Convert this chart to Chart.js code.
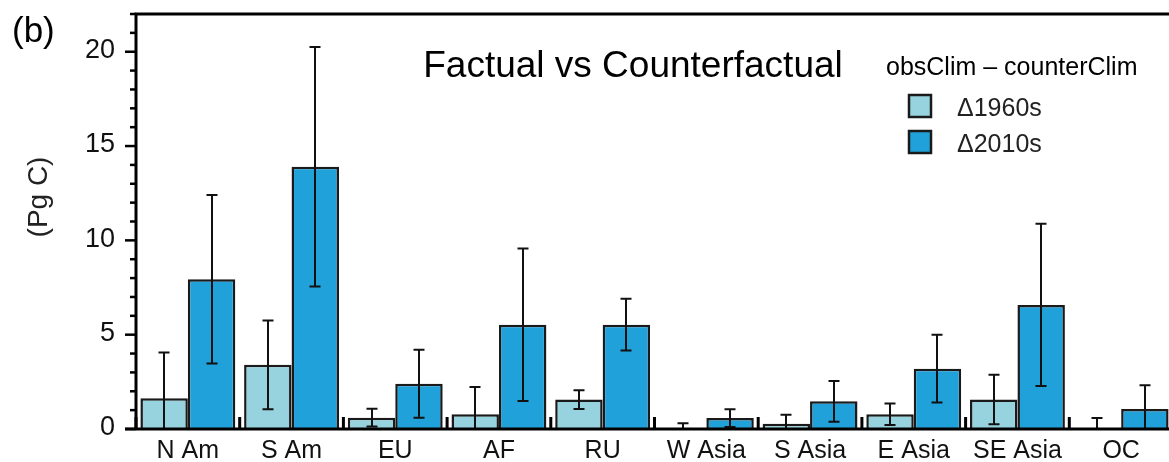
<!DOCTYPE html>
<html>
<head>
<meta charset="utf-8">
<script src="https://cdn.jsdelivr.net/npm/chart.js@4/dist/chart.umd.min.js"></script>
<style>
  html, body { margin: 0; padding: 0; background: #fff; overflow: hidden; }
  #wrap { width: 1175px; height: 462px; }
</style>
</head>
<body>
<div id="wrap"><canvas id="c" width="1175" height="462"></canvas></div>
<script>
const categories = ['N Am', 'S Am', 'EU', 'AF', 'RU', 'W Asia', 'S Asia', 'E Asia', 'SE Asia', 'OC'];
const d1960 = [1.63, 3.40, 0.60, 0.78, 1.56, 0.05, 0.28, 0.78, 1.56, 0.05];
const e1960 = [2.42, 2.35, 0.47, 1.45, 0.50, 0.25, 0.48, 0.57, 1.31, 0.53];
const d2010 = [7.94, 13.9, 2.40, 5.53, 5.53, 0.58, 1.47, 3.20, 6.58, 1.06];
const e2010 = [4.47, 6.35, 1.80, 4.04, 1.37, 0.47, 1.08, 1.80, 4.30, 1.26];
const seriesNames = ['\u03941960s', '\u03942010s'];
const yTickLabels = [0, 5, 10, 15, 20];
const yMax = 22;
const yMajorStep = 5;
const yMinorStep = 1;

const FONT = '"Liberation Sans", Arial, sans-serif';
const LIGHT = '#97d3df';
const BLUE = '#21a1d9';
const EDGE = '#1a1a1a';

const errors = [e1960, e2010];

const decorPlugin = {
  id: 'decor',
  afterDatasetsDraw(chart) {
    const ctx = chart.ctx;
    const ca = chart.chartArea;
    const ys = chart.scales.y;
    const xs = chart.scales.x;
    // error bars
    ctx.save();
    ctx.beginPath();
    ctx.rect(ca.left, ca.top, ca.right - ca.left, ca.bottom - ca.top);
    ctx.clip();
    ctx.strokeStyle = '#111';
    ctx.lineWidth = 2;
    chart.data.datasets.forEach((ds, di) => {
      const meta = chart.getDatasetMeta(di);
      meta.data.forEach((el, i) => {
        const v = ds.data[i];
        const e = errors[di][i];
        const yt = ys.getPixelForValue(v + e);
        const yb = ys.getPixelForValue(v - e);
        const x = Math.round(el.x);
        ctx.beginPath();
        ctx.moveTo(x, yt);
        ctx.lineTo(x, yb);
        ctx.moveTo(x - 5.5, yt);
        ctx.lineTo(x + 5.5, yt);
        if (v - e >= 0.05) {
          ctx.moveTo(x - 5.5, yb);
          ctx.lineTo(x + 5.5, yb);
        }
        ctx.stroke();
      });
    });
    ctx.restore();

    ctx.save();
    // frame
    ctx.strokeStyle = '#000';
    ctx.lineWidth = 3;
    ctx.beginPath();
    ctx.moveTo(ca.left, ca.bottom);
    ctx.lineTo(ca.left, ca.top);
    ctx.lineTo(ca.right, ca.top);
    ctx.lineTo(ca.right, ca.bottom);
    ctx.lineTo(ca.left - 11, ca.bottom);
    ctx.stroke();
    // y ticks
    ctx.lineWidth = 2.5;
    for (let v = 0; v <= yMax; v += yMinorStep) {
      const y = ys.getPixelForValue(v);
      const len = (v % yMajorStep === 0) ? 11 : 6;
      ctx.beginPath();
      ctx.moveTo(ca.left - len, y);
      ctx.lineTo(ca.left, y);
      ctx.stroke();
    }
    // y tick labels
    ctx.fillStyle = '#111';
    ctx.font = '27px ' + FONT;
    ctx.textAlign = 'right';
    ctx.textBaseline = 'middle';
    yTickLabels.forEach(v => {
      ctx.fillText(String(v), 115, ys.getPixelForValue(v) - 1);
    });
    // category separators
    ctx.lineWidth = 3;
    const n = categories.length;
    const w = (ca.right - ca.left) / n;
    for (let i = 0; i <= n; i++) {
      const x = xs.getPixelForValue(i) - w / 2;
      ctx.beginPath();
      ctx.moveTo(x, ca.bottom);
      ctx.lineTo(x, ca.bottom - 12);
      ctx.stroke();
    }
    // texts
    ctx.fillStyle = '#000';
    ctx.textBaseline = 'alphabetic';
    ctx.textAlign = 'left';
    ctx.font = '35px ' + FONT;
    ctx.fillText('(b)', 12, 42);
    ctx.textAlign = 'center';
    ctx.font = '37px ' + FONT;
    ctx.fillText('Factual vs Counterfactual', 633, 77);
    ctx.textAlign = 'left';
    ctx.font = '25px ' + FONT;
    ctx.fillText('obsClim \u2013 counterClim', 886, 75);
    // legend
    const cols = [LIGHT, BLUE];
    const boxY = [95, 131];
    ctx.font = '25px ' + FONT;
    for (let k = 0; k < 2; k++) {
      ctx.fillStyle = cols[k];
      ctx.fillRect(909, boxY[k], 22, 22);
      ctx.strokeStyle = EDGE;
      ctx.lineWidth = 2.5;
      ctx.strokeRect(909, boxY[k], 22, 22);
      ctx.fillStyle = '#222';
      ctx.fillText(seriesNames[k], 957, boxY[k] + 21);
    }
    // y title
    ctx.save();
    ctx.translate(47, 197);
    ctx.rotate(-Math.PI / 2);
    ctx.textAlign = 'center';
    ctx.font = '28px ' + FONT;
    ctx.fillStyle = '#222';
    ctx.fillText('(Pg C)', 0, 0);
    ctx.restore();
    ctx.restore();
  }
};

new Chart(document.getElementById('c'), {
  type: 'bar',
  data: {
    labels: categories,
    datasets: [
      { label: seriesNames[0], data: d1960, backgroundColor: LIGHT, borderColor: EDGE, borderWidth: 2.5 },
      { label: seriesNames[1], data: d2010, backgroundColor: BLUE, borderColor: EDGE, borderWidth: 2.5 }
    ]
  },
  options: {
    responsive: false,
    devicePixelRatio: 1,
    animation: false,
    layout: { padding: { top: 14, right: 2, left: 0, bottom: 0 } },
    datasets: { bar: { categoryPercentage: 0.915, barPercentage: 1.0 } },
    plugins: { legend: { display: false }, tooltip: { enabled: false } },
    scales: {
      x: {
        grid: { display: false, drawTicks: false },
        border: { display: false },
        ticks: { font: { family: FONT, size: 25 }, color: '#111', padding: 7, maxRotation: 0, autoSkip: false },
        afterFit(s) { s.height = 33; }
      },
      y: {
        min: 0, max: yMax,
        grid: { display: false, drawTicks: false },
        border: { display: false },
        ticks: { display: false, stepSize: yMajorStep },
        afterFit(s) { s.width = 136; }
      }
    }
  },
  plugins: [decorPlugin]
});
</script>
</body>
</html>
